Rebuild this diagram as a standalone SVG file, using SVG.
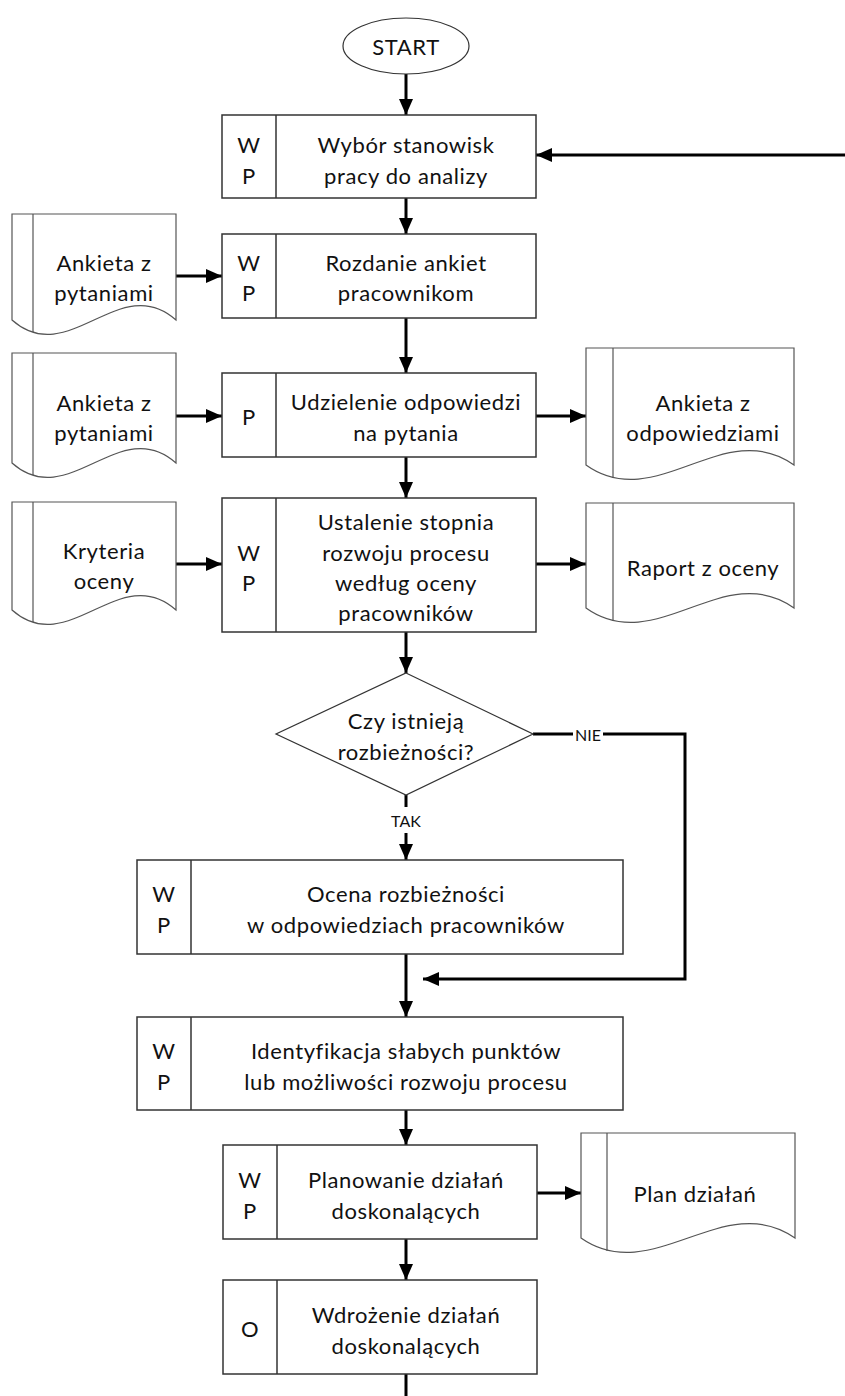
<svg xmlns="http://www.w3.org/2000/svg" width="845" height="1396" viewBox="0 0 845 1396">
<defs>
<marker id="ah" markerUnits="userSpaceOnUse" markerWidth="18" markerHeight="16" refX="16" refY="7" orient="auto">
<path d="M0,0 L16,7 L0,14 z" fill="#000"/>
</marker>
<style>
.box{fill:#fff;stroke:#333;stroke-width:1.5}
.div{stroke:#333;stroke-width:1.5}
.doc{fill:#fff;stroke:#555;stroke-width:1.2}
.t{font-family:Lato,"Liberation Sans",sans-serif;font-size:22px;letter-spacing:0.6px;fill:#111;text-anchor:middle;dominant-baseline:central}
.s{font-family:Lato,"Liberation Sans",sans-serif;font-size:16px;fill:#111;text-anchor:middle;dominant-baseline:central}
.c{stroke:#000;stroke-width:3;fill:none}
.ca{stroke:#000;stroke-width:3;fill:none;marker-end:url(#ah)}
</style>
</defs>
<rect width="845" height="1396" fill="#fff"/>

<g id="connectors">
<line class="ca" x1="406" y1="74" x2="406" y2="115"/>
<line class="ca" x1="845" y1="155" x2="536" y2="155"/>
<line class="ca" x1="406" y1="198" x2="406" y2="234"/>
<line class="ca" x1="176" y1="276" x2="222" y2="276"/>
<line class="ca" x1="406" y1="318" x2="406" y2="373"/>
<line class="ca" x1="176" y1="416" x2="222" y2="416"/>
<line class="ca" x1="536" y1="416" x2="586" y2="416"/>
<line class="ca" x1="406" y1="457" x2="406" y2="498"/>
<line class="ca" x1="176" y1="564" x2="222" y2="564"/>
<line class="ca" x1="536" y1="564" x2="586" y2="564"/>
<line class="ca" x1="406" y1="632" x2="406" y2="673"/>
<line class="c" x1="406" y1="795" x2="406" y2="807"/>
<line class="ca" x1="406" y1="833" x2="406" y2="860"/>
<line class="c" x1="533" y1="734" x2="573" y2="734"/>
<polyline class="ca" points="603,734 685,734 685,979 423,979"/>
<line class="ca" x1="406" y1="954" x2="406" y2="1017"/>
<line class="ca" x1="406" y1="1110" x2="406" y2="1145"/>
<line class="ca" x1="537" y1="1193" x2="581" y2="1193"/>
<line class="ca" x1="406" y1="1239" x2="406" y2="1280"/>
<line class="c" x1="406" y1="1374" x2="406" y2="1396"/>
<text class="s" x="406" y="820">TAK</text>
<text class="s" x="588" y="734">NIE</text>
</g>

<g id="start">
<ellipse cx="406" cy="46" rx="63" ry="28" fill="#fff" stroke="#333" stroke-width="1.2"/>
<text class="t" x="406" y="46">START</text>
</g>

<g id="box1">
<rect class="box" x="222" y="115" width="314" height="83"/>
<line class="div" x1="276" y1="115" x2="276" y2="198"/>
<text class="t" x="249" y="144">W</text><text class="t" x="249" y="175">P</text>
<text class="t" x="406" y="144">Wybór stanowisk</text>
<text class="t" x="406" y="175">pracy do analizy</text>
</g>

<g id="box2">
<rect class="box" x="222" y="234" width="314" height="84"/>
<line class="div" x1="276" y1="234" x2="276" y2="318"/>
<text class="t" x="249" y="262">W</text><text class="t" x="249" y="292">P</text>
<text class="t" x="406" y="262">Rozdanie ankiet</text>
<text class="t" x="406" y="292">pracownikom</text>
</g>

<g id="box3">
<rect class="box" x="222" y="373" width="314" height="84"/>
<line class="div" x1="276" y1="373" x2="276" y2="457"/>
<text class="t" x="249" y="416">P</text>
<text class="t" x="406" y="401">Udzielenie odpowiedzi</text>
<text class="t" x="406" y="432">na pytania</text>
</g>

<g id="box4">
<rect class="box" x="222" y="498" width="314" height="134"/>
<line class="div" x1="276" y1="498" x2="276" y2="632"/>
<text class="t" x="249" y="552">W</text><text class="t" x="249" y="582">P</text>
<text class="t" x="406" y="521">Ustalenie stopnia</text>
<text class="t" x="406" y="552">rozwoju procesu</text>
<text class="t" x="406" y="582">według oceny</text>
<text class="t" x="406" y="612">pracowników</text>
</g>

<g id="decision">
<polygon points="406,673 533,734 406,795 276,734" fill="#fff" stroke="#333" stroke-width="1.2"/>
<text class="t" x="406" y="720">Czy istnieją</text>
<text class="t" x="406" y="751">rozbieżności?</text>
</g>

<g id="box5">
<rect class="box" x="137" y="860" width="486" height="94"/>
<line class="div" x1="191" y1="860" x2="191" y2="954"/>
<text class="t" x="164" y="893">W</text><text class="t" x="164" y="924">P</text>
<text class="t" x="406" y="893">Ocena rozbieżności</text>
<text class="t" x="406" y="924">w odpowiedziach pracowników</text>
</g>

<g id="box6">
<rect class="box" x="137" y="1017" width="486" height="93"/>
<line class="div" x1="191" y1="1017" x2="191" y2="1110"/>
<text class="t" x="164" y="1050">W</text><text class="t" x="164" y="1081">P</text>
<text class="t" x="406" y="1050">Identyfikacja słabych punktów</text>
<text class="t" x="406" y="1081">lub możliwości rozwoju procesu</text>
</g>

<g id="box7">
<rect class="box" x="223" y="1145" width="314" height="94"/>
<line class="div" x1="277" y1="1145" x2="277" y2="1239"/>
<text class="t" x="250" y="1179">W</text><text class="t" x="250" y="1210">P</text>
<text class="t" x="406" y="1179">Planowanie działań</text>
<text class="t" x="406" y="1210">doskonalących</text>
</g>

<g id="box8">
<rect class="box" x="223" y="1280" width="314" height="94"/>
<line class="div" x1="277" y1="1280" x2="277" y2="1374"/>
<text class="t" x="250" y="1328">O</text>
<text class="t" x="406" y="1314">Wdrożenie działań</text>
<text class="t" x="406" y="1345">doskonalących</text>
</g>

<g id="doc1">
<path class="doc" d="M12,214 H176 V320 C120,270 68,370 12,320 Z"/>
<line class="doc" x1="33" y1="214" x2="33" y2="332"/>
<text class="t" x="104" y="262">Ankieta z</text>
<text class="t" x="104" y="292">pytaniami</text>
</g>

<g id="doc2">
<path class="doc" d="M12,353 H176 V463 C120,413 68,513 12,463 Z"/>
<line class="doc" x1="33" y1="353" x2="33" y2="475"/>
<text class="t" x="104" y="402">Ankieta z</text>
<text class="t" x="104" y="432">pytaniami</text>
</g>

<g id="doc3">
<path class="doc" d="M12,502 H176 V610 C120,560 68,660 12,610 Z"/>
<line class="doc" x1="33" y1="502" x2="33" y2="622"/>
<text class="t" x="104" y="550">Kryteria</text>
<text class="t" x="104" y="580">oceny</text>
</g>

<g id="doc4">
<path class="doc" d="M586,348 H794 V465 C724,415 656,515 586,465 Z"/>
<line class="doc" x1="613" y1="348" x2="613" y2="478"/>
<text class="t" x="703" y="402">Ankieta z</text>
<text class="t" x="703" y="432">odpowiedziami</text>
</g>

<g id="doc5">
<path class="doc" d="M586,503 H794 V608 C724,558 656,658 586,608 Z"/>
<line class="doc" x1="613" y1="503" x2="613" y2="621"/>
<text class="t" x="703" y="567">Raport z oceny</text>
</g>

<g id="doc6">
<path class="doc" d="M581,1133 H795 V1238 C724,1188 652,1288 581,1238 Z"/>
<line class="doc" x1="607" y1="1133" x2="607" y2="1251"/>
<text class="t" x="695" y="1193">Plan działań</text>
</g>
</svg>
